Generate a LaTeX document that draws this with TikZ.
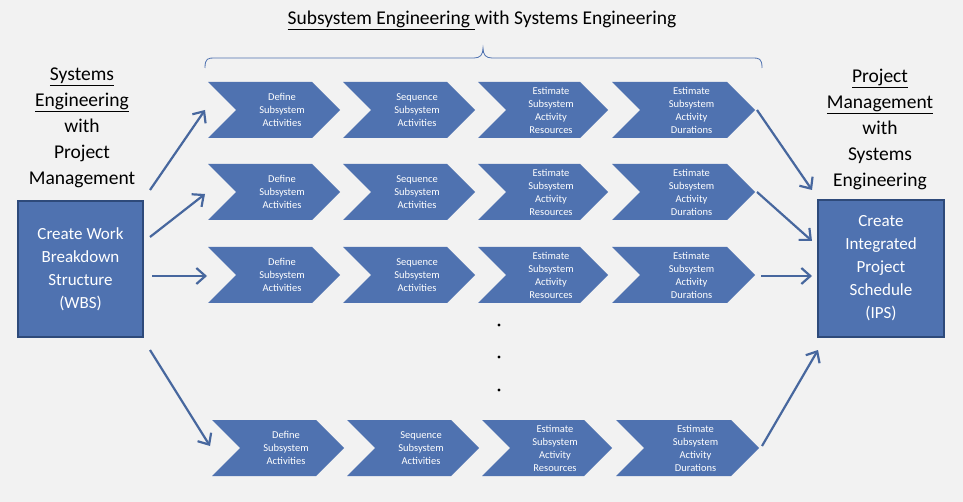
\documentclass[tikz,border=0pt]{standalone}
\usepackage{fontspec}
\setmainfont{Carlito}
\usetikzlibrary{arrows.meta}
\definecolor{bfill}{HTML}{4F72B0}
\definecolor{bdark}{HTML}{2E4A7A}
\definecolor{bg}{HTML}{F2F2F2}
\begin{document}
\begin{tikzpicture}[x=1pt,y=-1pt,
  chev/.style={fill=bfill,draw=none},
  ctext/.style={text=white,font=\fontsize{10.5}{13}\selectfont,align=center},
  bigbox/.style={fill=bfill,draw=bdark,line width=2pt,text=white,align=center,font=\fontsize{17}{23}\selectfont},
  side/.style={align=center,font=\fontsize{19.5}{26}\selectfont},
  arr/.style={draw=bfill!90!black,line width=2.2pt,-{Straight Barb[length=9pt,width=16pt]}}]
\fill[bg] (0,0) rectangle (963,502);
\useasboundingbox (0,0) rectangle (963,502);
\newcommand\mychev[5]{% x0, x1(tip), yc, name, text
  \pgfmathsetmacro\cx{(#1+#2)/2+8}
  \fill[chev] (#1,#3-28) -- (#2-28,#3-28) -- (#2,#3) -- (#2-28,#3+28) -- (#1,#3+28) -- (#1+28,#3) -- cycle;
  \node[ctext] (#4) at (\cx,#3) {#5};}
\foreach \r/\yc/\dx in {1/110/0,2/192/0,3/275/0,4/448/4}{
  \mychev{208+\dx}{340+\dx}{\yc}{t\r a}{Define\\Subsystem\\Activities}
  \mychev{343+\dx}{475+\dx}{\yc}{t\r b}{Sequence\\Subsystem\\Activities}
  \mychev{478+\dx}{608+\dx}{\yc}{t\r c}{Estimate\\Subsystem\\Activity\\Resources}
  \mychev{612+\dx}{755+\dx}{\yc}{t\r d}{Estimate\\Subsystem\\Activity\\Durations}
}
\node[bigbox,minimum width=125,minimum height=136] (wbs) at (80.5,269) {Create Work\\Breakdown\\Structure\\(WBS)};
\node[bigbox,minimum width=126,minimum height=137] (ips) at (881,268.5) {Create\\Integrated\\Project\\Schedule\\(IPS)};
\node[side] (lt) at (82,128) {\underline{Systems}\\\underline{Engineering}\\with\\Project\\Management};
\node[side] (rt) at (880,129) {\underline{Project}\\\underline{Management}\\with\\Systems\\Engineering};
\node[font=\fontsize{19.5}{22}\selectfont] (title) at (482,20) {\underline{Subsystem Engineering }with Systems Engineering};
\draw[bfill,line width=0.8pt] (205,68) .. controls (205,58) and (208,58) .. (215,58) -- (474,58) .. controls (480,58) and (483,55) .. (483,48)
  .. controls (483,55) and (486,58) .. (492,58) -- (752,58) .. controls (759,58) and (762,58) .. (762,68);
\foreach \yy [count=\i] in {325,357,390}{\fill (499,\yy) circle (1.6) coordinate (d\i);}
\coordinate (w1) at (150,190); \coordinate (w2) at (150,237); \coordinate (w3) at (152,276); \coordinate (w4) at (150,350);
\coordinate (s1) at (205,110); \coordinate (s2) at (205,194); \coordinate (s3) at (207,276); \coordinate (s4) at (210,446);
\coordinate (e1) at (757,110); \coordinate (e2) at (757,192); \coordinate (e3) at (761,276); \coordinate (e4) at (762,446);
\coordinate (p1) at (812,190); \coordinate (p2) at (812,241); \coordinate (p3) at (812,276); \coordinate (p4) at (818,350);
\foreach \i in {1,2,3,4}{\draw[arr] (w\i) -- (s\i); \draw[arr] (e\i) -- (p\i);}
\end{tikzpicture}
\end{document}
